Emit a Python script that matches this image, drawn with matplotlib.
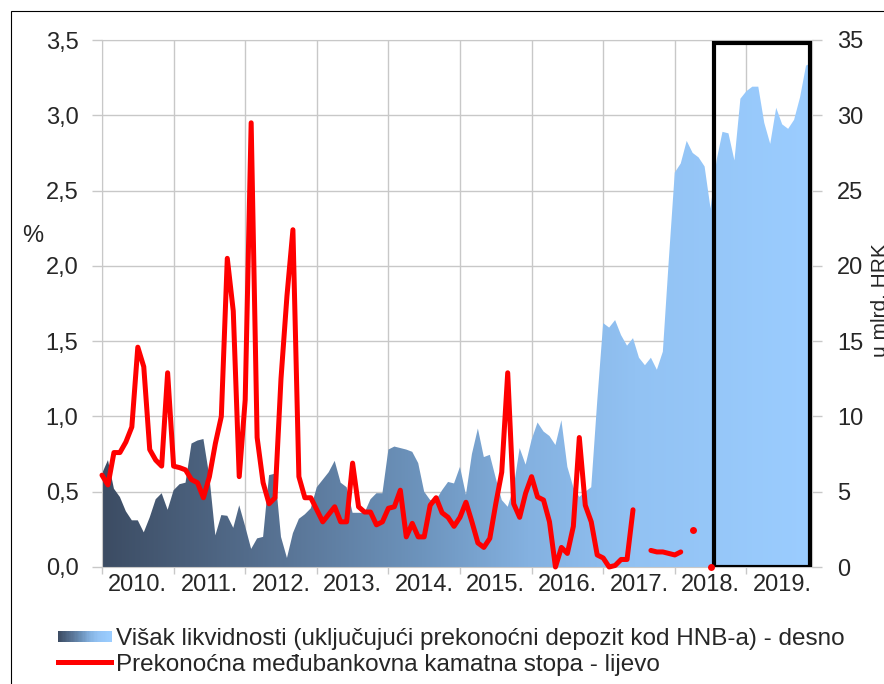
import numpy as np
import matplotlib
matplotlib.use("Agg")
from matplotlib import pyplot as plt
from matplotlib.colors import LinearSegmentedColormap
from matplotlib.patches import Rectangle
from matplotlib.lines import Line2D
from matplotlib.legend_handler import HandlerBase

plt.rcParams['font.family'] = ['Liberation Sans', 'DejaVu Sans']

nan = np.nan

# godine na osi x (mjesečni podaci, sij. 2010. - pro. 2019.)
years = ["2010.", "2011.", "2012.", "2013.", "2014.", "2015.", "2016.", "2017.", "2018.", "2019."]

# višak likvidnosti, u mlrd. HRK (desna os)
liquidity = [
    6.2, 7.1, 5.2, 4.65, 3.7, 3.1, 3.1, 2.3, 3.3, 4.5, 4.9, 3.8,
    5.1, 5.5, 5.6, 8.2, 8.4, 8.5, 6.0, 2.1, 3.45, 3.4, 2.6, 4.1,
    2.7, 1.2, 1.9, 2.0, 6.1, 6.2, 2.0, 0.6, 2.25, 3.2, 3.5, 3.9,
    5.3, 5.8, 6.3, 7.05, 5.6, 5.3, 3.6, 3.6, 3.6, 4.5, 4.9, 4.9,
    7.8, 8.0, 7.9, 7.8, 7.65, 6.9, 5.0, 4.45, 4.45, 5.1, 5.65, 5.55,
    6.65, 4.8, 7.5, 9.2, 7.3, 7.45, 5.9, 4.45, 4.0, 5.3, 7.9, 6.8,
    8.45, 9.6, 9.0, 8.7, 8.1, 9.75, 6.65, 5.3, 4.65, 5.0, 5.3, 11.0,
    16.2, 15.9, 16.4, 15.4, 14.7, 15.2, 13.9, 13.4, 13.9, 13.1, 14.3, 20.4,
    26.2, 26.8, 28.3, 27.5, 27.2, 26.6, 23.8, 27.0, 28.9, 28.8, 27.0, 31.1,
    31.6, 31.9, 31.9, 29.5, 28.1, 30.5, 29.4, 29.1, 29.7, 31.2, 33.3, 33.5,
]

# prekonoćna međubankovna kamatna stopa, % (lijeva os)
overnight = [
    0.61, 0.545, 0.76, 0.76, 0.83, 0.93, 1.46, 1.33, 0.78, 0.71, 0.67, 1.29,
    0.67, 0.66, 0.645, 0.58, 0.56, 0.46, 0.60, 0.82, 1.0, 2.05, 1.7, 0.6,
    1.11, 2.95, 0.86, 0.56, 0.42, 0.46, 1.25, 1.8, 2.24, 0.6, 0.46, 0.46,
    0.38, 0.30, 0.35, 0.40, 0.30, 0.30, 0.69, 0.40, 0.365, 0.365, 0.28, 0.30,
    0.39, 0.40, 0.51, 0.20, 0.29, 0.20, 0.20, 0.41, 0.46, 0.36, 0.33, 0.27,
    0.33, 0.43, 0.30, 0.16, 0.13, 0.19, 0.42, 0.63, 1.29, 0.42, 0.33, 0.49,
    0.60, 0.465, 0.445, 0.30, 0.0, 0.13, 0.09, 0.27, 0.86, 0.41, 0.30, 0.08,
    0.06, 0.0, 0.01, 0.05, 0.05, 0.38, nan, nan, 0.11, 0.10, 0.10, 0.09,
    0.08, 0.10, nan, 0.245, nan, nan, 0.0, nan, nan, nan, nan, nan,
    nan, nan, nan, nan, nan, nan, nan, nan, nan, nan, nan, nan,
]

label_area = "Višak likvidnosti (uključujući prekonoćni depozit kod HNB-a) - desno"
label_rate = "Prekonoćna međubankovna kamatna stopa - lijevo"

grid_c = '#c8c8c8'
text_c = '#262626'
fs = 17
area_cmap = LinearSegmentedColormap.from_list('liq', [
    (0.0, '#3c4c63'), (0.25, '#587394'), (0.45, '#6d94bd'),
    (0.6, '#84b1e0'), (0.75, '#92c2f3'), (1.0, '#9bcdff')])


class GradientSwatch(Rectangle):
    pass


class GradientHandler(HandlerBase):
    def create_artists(self, legend, orig_handle, xdescent, ydescent,
                       width, height, fontsize, trans):
        n = 40
        arts = []
        for k in range(n):
            r = Rectangle((-xdescent + width * k / n, -ydescent + height * 0.15),
                          width / n * 1.1, height * 0.7,
                          facecolor=area_cmap(k / (n - 1)), edgecolor='none',
                          transform=trans)
            arts.append(r)
        return arts


fig = plt.figure(figsize=(8.84, 6.84), dpi=100)
ax = fig.add_axes([102 / 884, 117 / 684, 710 / 884, 527 / 684])
ax2 = ax.twinx()

x = np.arange(len(liquidity))

# površina s gradijentom (desna os)
fill = ax.fill_between(x, 0, liquidity, facecolor='none', edgecolor='none')
grad = np.linspace(0, 1, 256).reshape(1, -1)
im = ax.imshow(grad, cmap=area_cmap, extent=[x[0], x[-1], 0, 35],
               aspect='auto', origin='lower', zorder=1)
im.set_clip_path(fill.get_paths()[0], transform=ax.transData)

# okvir oko 2018./2019.
ax.add_patch(Rectangle((102.6, 0), 118.7 - 102.6, 34.8, fill=False,
                       edgecolor='black', lw=3, zorder=3))

ax.set_xlim(0, len(liquidity) - 1)
ax.set_ylim(0, 35)
ax.set_yticks(range(0, 36, 5))
ax.yaxis.tick_right()
ax.set_xticks([12 * k for k in range(len(years))])
ax.set_xticklabels([])
ax.set_xticks([12 * k + 6 for k in range(len(years))], minor=True)
ax.set_xticklabels(years, minor=True)
ax.tick_params(axis='x', which='major', length=5, color=grid_c, width=1)
ax.tick_params(axis='x', which='minor', length=0, pad=5, labelsize=fs, labelcolor=text_c)
ax.tick_params(axis='y', length=7, color=grid_c, width=1, pad=11, labelsize=fs, labelcolor=text_c)
ax.grid(True, which='major', color=grid_c, lw=1)
ax.set_axisbelow(True)
for s in ax.spines.values():
    s.set_color(grid_c)

# crvena linija (lijeva os)
ov = np.array(overnight, dtype=float)
ax2.plot(x, ov, color='#ff0000', lw=3.6, solid_joinstyle='round',
         solid_capstyle='round', clip_on=False, zorder=3)
prev_ok = np.isfinite(np.r_[nan, ov[:-1]])
next_ok = np.isfinite(np.r_[ov[1:], nan])
iso = np.isfinite(ov) & ~prev_ok & ~next_ok
ax2.plot(x[iso], ov[iso], 'o', color='#ff0000', ms=5, mec='none', clip_on=False)
ax2.set_ylim(0, 3.5)
ax2.set_yticks(np.arange(0, 3.51, 0.5))
ax2.set_yticklabels([f"{v:.1f}".replace('.', ',') for v in np.arange(0, 3.51, 0.5)])
ax2.yaxis.tick_left()
ax2.tick_params(axis='y', length=7, color=grid_c, width=1, pad=10, labelsize=fs, labelcolor=text_c)
for s in ax2.spines.values():
    s.set_visible(False)

fig.text(33 / 884, 1 - 236 / 684, '%', ha='center', va='center', fontsize=fs, color=text_c)
fig.text(880 / 884, 1 - 300 / 684, 'u mlrd. HRK', rotation=90, ha='center', va='center',
         fontsize=15, color=text_c)

handles = [GradientSwatch((0, 0), 1, 1),
           Line2D([], [], color='#ff0000', lw=3.6)]
fig.legend(handles, [label_area, label_rate], loc='upper left',
           bbox_to_anchor=(58 / 884, 1 - 628 / 684), frameon=False,
           fontsize=17.5, handlelength=2.2, handletextpad=0.2, labelspacing=0.15,
           borderpad=0, borderaxespad=0, labelcolor=text_c,
           handler_map={GradientSwatch: GradientHandler()})

# tanki okvir slike (odrezan desno i dolje)
fig.add_artist(Rectangle((11 / 884, -0.2), 1.5, 1.2 - 11 / 684, transform=fig.transFigure,
                         fill=False, edgecolor='black', lw=0.8))

fig.savefig('out.png', dpi=100)
